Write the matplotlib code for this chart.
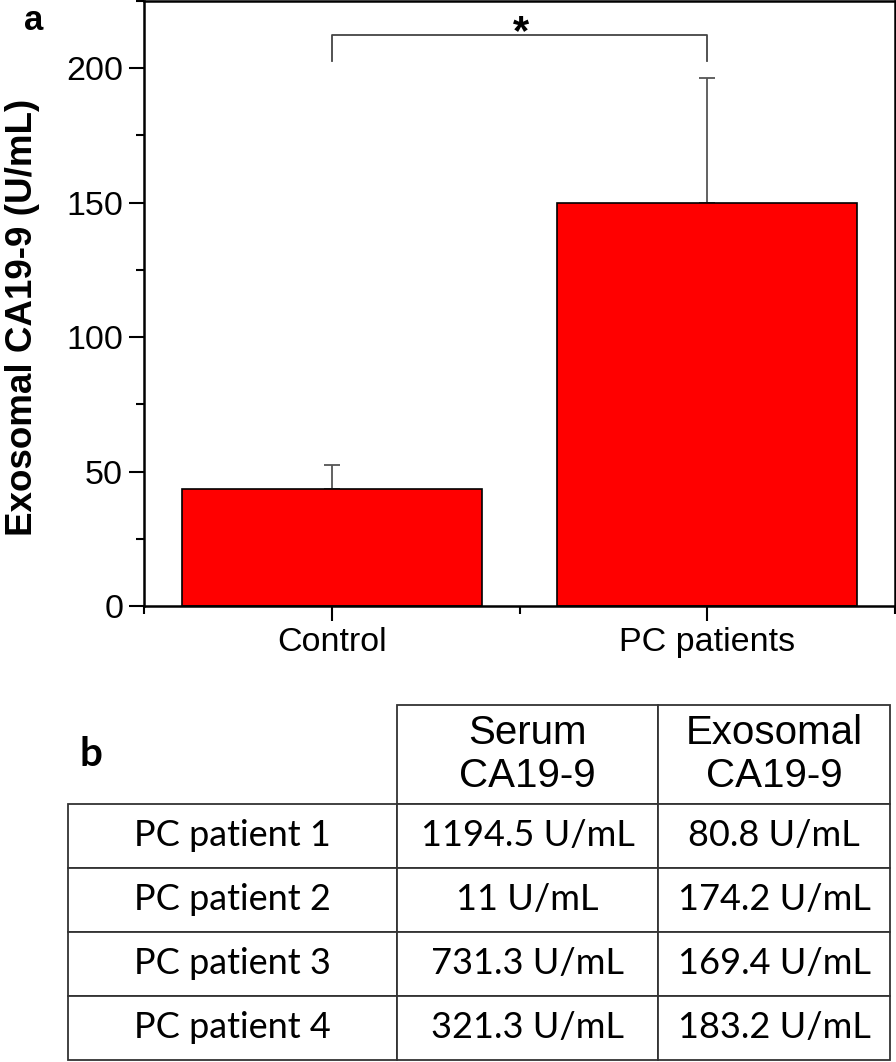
import matplotlib
matplotlib.use("Agg")
import matplotlib.pyplot as plt
from matplotlib.ticker import MultipleLocator, FixedLocator

# panel a data
groups = ['Control', 'PC patients']
means = [43.6, 149.8]
errs = [8.9, 46.6]

# panel b data
row_names = ['PC patient 1', 'PC patient 2', 'PC patient 3', 'PC patient 4']
col_names = ['Serum\nCA19-9', 'Exosomal\nCA19-9']
serum = ['1194.5 U/mL', '11 U/mL', '731.3 U/mL', '321.3 U/mL']
exosomal = ['80.8 U/mL', '174.2 U/mL', '169.4 U/mL', '183.2 U/mL']

W, H = 896, 1062
fig = plt.figure(figsize=(W / 100, H / 100), dpi=100)
arial = 'Liberation Sans'

# ---- panel a ----
ax = fig.add_axes([144 / W, 1 - 606 / H, (895 - 144) / W, (606 - 1) / H])
xpos = [1, 2]
ax.bar(xpos, means, width=0.8, color='#ff0000', edgecolor='black', linewidth=1.2, zorder=2)
ax.errorbar(xpos, means, yerr=[[0, 0], errs], fmt='none', ecolor='#555555',
            elinewidth=1.3, capsize=6, capthick=1.3, zorder=1)
ax.set_xlim(0.5, 2.5)
ax.set_ylim(0, 225)
ax.set_xticks(xpos)
ax.set_xticklabels(groups, fontsize=24.5, family=arial)
ax.xaxis.set_minor_locator(FixedLocator([0.5, 1.5, 2.5]))
ax.set_yticks([0, 50, 100, 150, 200])
ax.yaxis.set_minor_locator(MultipleLocator(25))
for lab in ax.get_yticklabels():
    lab.set_family(arial)
    lab.set_fontsize(24.5)
ax.tick_params(which='major', direction='out', length=11, width=1.5, pad=4)
ax.tick_params(which='minor', direction='out', length=6, width=1.5)
for sp in ax.spines.values():
    sp.set_linewidth(1.8)
ax.set_ylabel('Exosomal CA19-9 (U/mL)', fontsize=26.5, fontweight='bold', family=arial)
ax.yaxis.set_label_coords(-(144 - 40) / 751, 0.477)

# significance bracket
by, bd = 212.3, 202.6
ax.plot([xpos[0], xpos[0], xpos[1], xpos[1]], [bd, by, by, bd], color='#444444', lw=1.3, clip_on=False)
ax.text(1.505, 209.0, '*', ha='center', va='baseline', fontsize=30, fontweight='bold', family=arial)

fig.text(34 / W, 1 - 21 / H, 'a', fontsize=25, fontweight='bold', family=arial, va='center', ha='center')

# ---- panel b ----
tx = fig.add_axes([0, 0, 1, 1])
tx.axis('off')
cells = [[''] + col_names] + [[r, s, e] for r, s, e in zip(row_names, serum, exosomal)]
tl, tr, tt, tb = 68, 890, 705, 1060
tab = tx.table(cellText=cells, cellLoc='center',
               bbox=[tl / W, 1 - tb / H, (tr - tl) / W, (tb - tt) / H])
tab.auto_set_font_size(False)
col_w = [397 - 68, 658 - 397, 890 - 658]
row_h = [99, 64, 64, 64, 64]
for (r, c), cell in tab.get_celld().items():
    cell.set_width(col_w[c])
    cell.set_height(row_h[r])
    cell.set_linewidth(1.3)
    cell.set_edgecolor('#333333')
    t = cell.get_text()
    if r == 0:
        t.set_family(arial)
        t.set_fontsize(29)
        t.set_linespacing(1.15)
    else:
        t.set_family('Lato')
        t.set_fontsize(26)
tab[0, 0].visible_edges = ''

fig.text(91 / W, 1 - 754 / H, 'b', fontsize=29, fontweight='bold', family='Lato', va='center', ha='center')

fig.savefig('out.png', dpi=100)
